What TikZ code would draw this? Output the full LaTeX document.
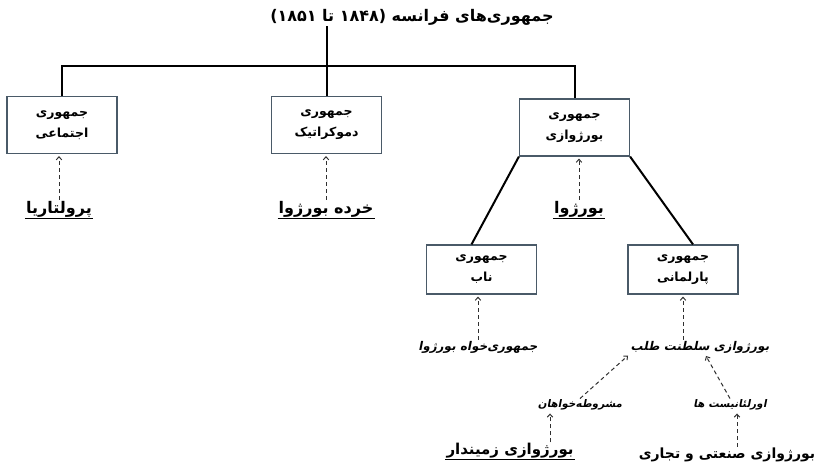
\documentclass[tikz,border=0pt]{standalone}
\usepackage{fontspec}
\usetikzlibrary{arrows.meta,calc}
\TeXXeTstate=1
\newfontfamily\fa[Script=Arabic]{DejaVu Sans}
\newfontfamily\fab[Script=Arabic]{DejaVu Sans Bold}
\newfontfamily\faib[Script=Arabic,FakeSlant=0.2]{DejaVu Sans Bold}
\definecolor{boxc}{HTML}{4A5A68}
\definecolor{dashc}{HTML}{303030}
\tikzset{
 boxnode/.style={draw=boxc, line width=1.2pt, minimum width=110pt, minimum height=57pt, align=center, font=\fab\fontsize{12.5}{21}\selectfont, inner sep=0pt},
 titlenode/.style={font=\fab\fontsize{16}{18}\selectfont, inner sep=1pt},
 bigl/.style={font=\fab\fontsize{16}{18}\selectfont, inner sep=1pt},
 itl/.style={font=\faib\fontsize{12}{14}\selectfont, inner sep=1pt},
 smallitl/.style={font=\faib\fontsize{10.5}{12}\selectfont, inner sep=1pt},
 conn/.style={line width=2pt, black},
 dasharrow/.style={dashc, line width=1pt, dash pattern=on 4pt off 3pt, -{Straight Barb[length=3pt,width=5.5pt]}, shorten >=2pt},
 ulline/.style={line width=1.4pt, black},
}
\begin{document}
\begin{tikzpicture}[x=1pt,y=-1pt]
\useasboundingbox (0,0) rectangle (814,471);
\node[titlenode] (title) at (412,17) {\beginR جمهوری‌های فرانسه (۱۸۴۸ تا ۱۸۵۱)\endR};
\node[boxnode] (left) at (62,125) {\beginR جمهوری\endR\\\beginR اجتماعی\endR};
\node[boxnode] (mid) at (326.5,125) {\beginR جمهوری\endR\\\beginR دموکراتیک\endR};
\node[boxnode] (right) at (574.5,127.5) {\beginR جمهوری\endR\\\beginR بورژوازی\endR};
\node[boxnode, minimum height=49pt] (naab) at (481.5,269.5) {\beginR جمهوری\endR\\\beginR ناب\endR};
\node[boxnode, minimum height=49pt] (parl) at (683,269.5) {\beginR جمهوری\endR\\\beginR پارلمانی\endR};

\node[bigl] (prol) at (59,209) {\beginR پرولتاریا\endR};
\node[bigl] (khord) at (326,209) {\beginR خرده بورژوا\endR};
\node[bigl] (bour) at (579,209) {\beginR بورژوا\endR};
\node[itl] (khah) at (478,347) {\beginR جمهوری‌خواه بورژوا\endR};
\node[itl] (salt) at (700,347) {\beginR بورژوازی سلطنت طلب\endR};
\node[smallitl] (mash) at (580,405) {\beginR مشروطه‌خواهان\endR};
\node[smallitl] (orl) at (730,405) {\beginR اورلئانیست ها\endR};
\node[bigl, font=\fab\fontsize{15}{17}\selectfont] (zam) at (510,451) {\beginR بورژوازی زمیندار\endR};
\node[bigl, font=\fab\fontsize{14}{16}\selectfont] (sanati) at (727,455) {\beginR بورژوازی صنعتی و تجاری\endR};

\draw[ulline] (prol.south west) -- (prol.south east);
\draw[ulline] (khord.south west) -- (khord.south east);
\draw[ulline] (bour.south west) -- (bour.south east);
\draw[ulline] (zam.south west) -- (zam.south east);

\coordinate (bar) at (328,66);
\draw[conn] (title.south -| mid.north) -- (mid.north);
\draw[conn] (left.north) -- (left.north |- bar) -- (right.north |- bar) -- (right.north);
\draw[conn] (right.south west) -- ($(naab.north west)!0.41!(naab.north east)$);
\draw[conn] (right.south east) -- ($(parl.north west)!0.59!(parl.north east)$);

\draw[dasharrow] (prol.north) -- (prol.north |- left.south);
\draw[dasharrow] (khord.north) -- (khord.north |- mid.south);
\draw[dasharrow] (bour.north) -- (bour.north |- right.south);
\draw[dasharrow] (khah.north) -- (khah.north |- naab.south);
\draw[dasharrow] (salt.north -| parl.south) -- (parl.south);
\draw[dasharrow] (mash.north) -- (salt.south west);
\coordinate (saltpt) at ($(salt.south)+(5,0)$);
\draw[dasharrow] (orl.north) -- (saltpt);
\coordinate (mashpt) at ($(mash.south)+(-30,0)$);
\draw[dasharrow] (zam.north -| mashpt) -- (mashpt);
\coordinate (orlpt) at ($(orl.south)+(7,0)$);
\draw[dasharrow] (sanati.north -| orlpt) -- (orlpt);
\end{tikzpicture}
\end{document}
